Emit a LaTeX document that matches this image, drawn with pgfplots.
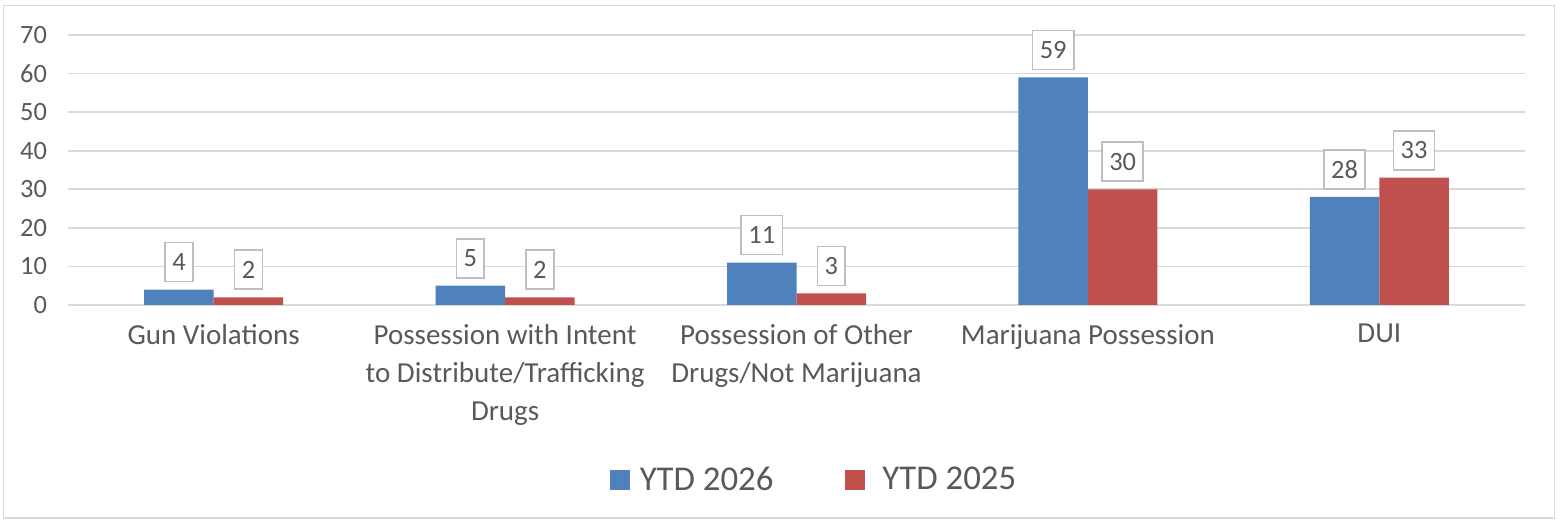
\documentclass[border=0pt]{standalone}
\usepackage{pgfplots}
\pgfplotsset{compat=1.18}
\usepackage{fontspec}
\setmainfont{Carlito}
\definecolor{cblue}{HTML}{4F81BD}
\definecolor{cred}{HTML}{C0504D}
\definecolor{txt}{HTML}{595959}
\definecolor{gridc}{HTML}{D9D9D9}
\definecolor{boxc}{HTML}{BFBFBF}
\begin{document}
\begin{tikzpicture}
\begin{axis}[
 scale only axis, width=728.5pt, height=135pt,
 xmin=-0.5, xmax=4.5, ymin=0, ymax=70,
 ytick={0,10,...,70},
 xtick={0,1,2,3,4},
 xticklabels={Gun Violations, {Possession with Intent\\to Distribute/Trafficking\\Drugs}, {Possession of Other\\Drugs/Not Marijuana}, Marijuana Possession, DUI},
 xticklabel style={align=center, font=\fontsize{14.5}{19}\selectfont, text=txt, anchor=north, yshift=-6pt},
 yticklabel style={font=\fontsize{13.2}{15}\selectfont, text=txt, xshift=-7pt},
 /pgf/number format/assume math mode=true,
 axis line style={draw=none},
 major tick length=0pt,
 ymajorgrids, grid style={gridc, line width=0.9pt},
 ybar=0pt, bar width=34.75pt,
 nodes near coords,
 every node near coord/.append style={draw=boxc, line width=0.8pt, fill=white, text=txt, font=\fontsize{13.2}{15}\selectfont, inner xsep=3.6pt, inner ysep=0pt, minimum height=19.5pt, anchor=south, yshift=3.6pt},
 legend columns=2,
 legend cell align=left,
 legend style={at={(0.5127,-0.648)}, anchor=center, draw=none, fill=none, font=\fontsize{17.4}{20}\selectfont, text=txt, /tikz/every even column/.append style={column sep=34pt}},
 legend image code/.code={\fill[#1] (0pt,-5pt) rectangle (10pt,5pt);},
]
\addplot[fill=cblue, draw=none] coordinates {(0,4) (1,5) (2,11) (3,59) (4,28)};
\addplot[fill=cred, draw=none] coordinates {(0,2) (1,2) (2,3) (3,30) (4,33)};
\legend{\hspace{3pt}YTD 2026, \hspace{6.5pt}YTD 2025}
\end{axis}
\pgfresetboundingbox
\path[use as bounding box] ([shift={(-34pt,-109pt)}]current axis.south west) rectangle ([shift={(747pt,152.5pt)}]current axis.south west);
\draw[gridc, line width=0.9pt] ([shift={(-32.25pt,-106.5pt)}]current axis.south west) rectangle ([shift={(743.25pt,149.75pt)}]current axis.south west);
\end{tikzpicture}
\end{document}
